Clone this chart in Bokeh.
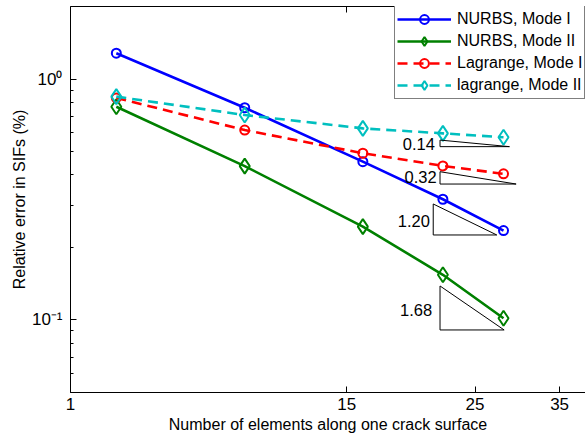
from bokeh.plotting import figure
from bokeh.models import FixedTicker, LinearAxis
from bokeh.core.properties import value
from bokeh.embed import file_html
from bokeh.resources import INLINE

# ---- data ----
elements = [6, 10, 16, 22, 28]
nurbs_mode1 = [1.28, 0.76, 0.454, 0.317, 0.235]
nurbs_mode2 = [0.767, 0.435, 0.244, 0.154, 0.1016]
lagrange_mode1 = [0.835, 0.614, 0.492, 0.436, 0.404]
lagrange_mode2 = [0.845, 0.709, 0.624, 0.595, 0.573]

x_ticks = [5, 15, 25, 35]
x_tick_labels = ["1", "15", "25", "35"]
y_ticks = [0.1, 1]
y_tick_labels = ["10\u207b\u00b9", "10\u2070"]
y_minor_ticks = [0.05, 0.06, 0.07, 0.08, 0.09, 0.2, 0.3, 0.4, 0.5, 0.6, 0.7, 0.8, 0.9]

# slope triangles (annotations)
slope_labels = ["0.14", "0.32", "1.20", "1.68"]
tri_x_left = [21.75, 21.75, 21.17, 21.75]
tri_x_right = [28.67, 29.44, 27.26, 28.07]
tri_y_top = [0.558, 0.4124, 0.303, 0.1384]
tri_y_bottom = [0.524, 0.3666, 0.2253, 0.0909]
label_x = [21.31, 21.46, 20.89, 21.08]
label_y = [0.5375, 0.391, 0.2582, 0.1103]

FONT = "Liberation Sans"

p = figure(width=585, height=441, x_axis_type="log", y_axis_type="log",
           x_range=(5, 38.8), y_range=(0.05, 2.0),
           output_backend="svg", toolbar_location=None,
           min_border_left=70, min_border_right=0, min_border_top=6, min_border_bottom=49)
p.outline_line_color = None
p.grid.visible = False
p.background_fill_color = "white"
p.border_fill_color = "white"

# bottom axis
xa = p.xaxis[0]
xa.ticker = FixedTicker(ticks=x_ticks, minor_ticks=[])
xa.major_label_overrides = {t: l for t, l in zip(x_ticks, x_tick_labels)}
xa.axis_label = "Number of elements along one crack surface"
# left axis
ya = p.yaxis[0]
ya.ticker = FixedTicker(ticks=y_ticks, minor_ticks=y_minor_ticks)
ya.major_label_overrides = {t: l for t, l in zip(y_ticks, y_tick_labels)}
ya.axis_label = "Relative error in SIFs (%)"

for ax in (xa, ya):
    ax.major_label_text_font = FONT
    ax.major_label_text_font_size = "17px"
    ax.major_label_text_color = "black"
    ax.axis_label_text_font = FONT
    ax.axis_label_text_font_size = "16px"
    ax.axis_label_text_font_style = "normal"
    ax.axis_label_text_color = "black"
    ax.major_tick_in = 6
    ax.major_tick_out = 0
    ax.minor_tick_in = 3
    ax.minor_tick_out = 0
    ax.axis_line_color = "black"
    ax.major_tick_line_color = "black"
    ax.minor_tick_line_color = "black"
xa.major_label_standoff = 5
xa.axis_label_standoff = 3
ya.major_label_standoff = 8
ya.axis_label_standoff = 1

# top axis (box line with inward ticks, no labels)
top = LinearAxis(ticker=FixedTicker(ticks=x_ticks, minor_ticks=[]),
                 major_label_overrides={t: "" for t in x_ticks},
                 major_label_text_font_size="0px", major_label_standoff=0,
                 major_tick_in=6, major_tick_out=0, minor_tick_in=0, minor_tick_out=0,
                 axis_line_color="black", major_tick_line_color="black")
p.add_layout(top, "above")

series = [
    ("NURBS, Mode I", nurbs_mode1, "#0000ff", "circle", "solid", 9),
    ("NURBS, Mode II", nurbs_mode2, "#008000", "diamond", "solid", 15),
    ("Lagrange, Mode I", lagrange_mode1, "#ff0000", "circle", "10 6", 9),
    ("lagrange, Mode II", lagrange_mode2, "#00bfbf", "diamond", "10 6", 15),
]
for name, vals, col, mk, dash, sz in series:
    p.line(elements, vals, line_color=col, line_width=2.6, line_dash=dash, legend_label=name)
    p.scatter(elements, vals, marker=mk, size=sz,
              line_color=col, fill_color=None, line_width=2, legend_label=name)

# slope triangles
xs = [[a, a, b, a] for a, b in zip(tri_x_left, tri_x_right)]
ys = [[t, bt, bt, t] for t, bt in zip(tri_y_top, tri_y_bottom)]
p.multi_line(xs=xs, ys=ys, line_color="black", line_width=1)
p.text(x=label_x, y=label_y, text=slope_labels, text_align="right", text_baseline="middle",
       text_font=value(FONT), text_font_size="16.5px", text_color="black")

lg = p.legend[0]
lg.location = (324, 293)
lg.border_line_color = "black"
lg.border_line_width = 1
lg.background_fill_color = "white"
lg.background_fill_alpha = 1
lg.label_text_font = FONT
lg.label_text_font_size = "16px"
lg.label_text_color = "black"
lg.glyph_width = 54
lg.glyph_height = 22
lg.label_height = 22
lg.label_standoff = 6
lg.padding = 2
lg.spacing = -3
lg.margin = 0

open("out.html", "w").write(file_html(p, INLINE))
